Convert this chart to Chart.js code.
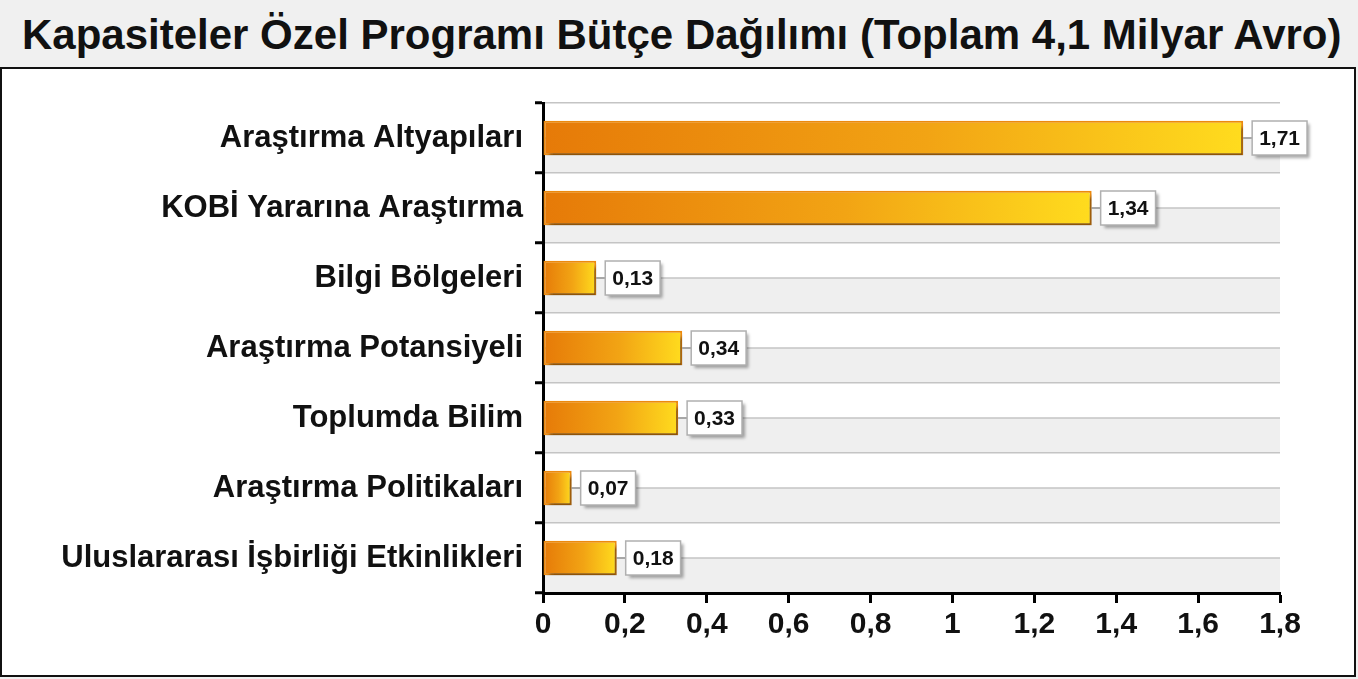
<!DOCTYPE html>
<html lang="tr">
<head>
<meta charset="utf-8">
<title>Kapasiteler Özel Programı Bütçe Dağılımı</title>
<script src="https://cdn.jsdelivr.net/npm/chart.js@4"></script>
<style>
    html, body { margin: 0; padding: 0; background: #f0f0f0; }
    body { width: 1358px; height: 679px; position: relative; overflow: hidden; font-family: 'Liberation Sans', Arial, sans-serif; }
    #title { position: absolute; left: 22px; top: 2px; height: 66px; line-height: 66px; font-size: 42px; font-weight: bold; color: #111; white-space: nowrap; }
    #box { position: absolute; left: 0; top: 67px; width: 1352px; height: 606px; border: 2px solid #111; background: #fff; }
    canvas { display: block; }
</style>
</head>
<body>
<div id="title">Kapasiteler Özel Programı Bütçe Dağılımı (Toplam 4,1 Milyar Avro)</div>
<div id="box"><canvas id="budgetChart" width="1352" height="606"></canvas></div>
<script>
'use strict';
// bütçe dağılımı (milyar avro)
const CATEGORIES = [
    'Araştırma Altyapıları',
    'KOBİ Yararına Araştırma',
    'Bilgi Bölgeleri',
    'Araştırma Potansiyeli',
    'Toplumda Bilim',
    'Araştırma Politikaları',
    'Uluslararası İşbirliği Etkinlikleri',
];
const VALUES = [1.71, 1.34, 0.13, 0.34, 0.33, 0.07, 0.18];
const X_TICK_LABELS = ['0', '0,2', '0,4', '0,6', '0,8', '1', '1,2', '1,4', '1,6', '1,8'];

const FONT = "'Liberation Sans', Arial, sans-serif";

// satır zemini: her bandın alt yarısı gri, ortasından ince çizgi
const bandPlugin = {
    id: 'bands',
    beforeDraw(chart) {
        const { ctx, chartArea: a, scales: { y } } = chart;
        const half = (y.getPixelForValue(1) - y.getPixelForValue(0)) / 2;
        ctx.save();
        CATEGORIES.forEach((_, i) => {
            const yc = y.getPixelForValue(i);
            ctx.fillStyle = '#efefef';
            ctx.fillRect(a.left, yc, a.right - a.left, half);
            ctx.strokeStyle = '#c4c4c4';
            ctx.lineWidth = 1.5;
            ctx.beginPath();
            ctx.moveTo(a.left, yc);
            ctx.lineTo(a.right, yc);
            ctx.stroke();
        });
        ctx.restore();
    },
};

const shadowPlugin = {
    id: 'barShadow',
    beforeDatasetsDraw(chart) {
        const ctx = chart.ctx;
        ctx.save();
        ctx.shadowColor = 'rgba(0,0,0,0.4)';
        ctx.shadowOffsetX = 3;
        ctx.shadowOffsetY = 4;
        ctx.shadowBlur = 3;
    },
    afterDatasetsDraw(chart) {
        chart.ctx.restore();
    },
};

// değer kutuları
const valueBoxPlugin = {
    id: 'valueBoxes',
    afterDatasetsDraw(chart) {
        const ctx = chart.ctx;
        const meta = chart.getDatasetMeta(0);
        ctx.save();
        ctx.font = 'bold 21px ' + FONT;
        meta.data.forEach((bar, i) => {
            const text = String(VALUES[i]).replace('.', ',');
            const w = ctx.measureText(text).width + 14;
            const h = 34;
            const x0 = bar.x + 9;
            const y0 = bar.y - h / 2;
            ctx.strokeStyle = '#9a9a9a';
            ctx.lineWidth = 1.5;
            ctx.beginPath();
            ctx.moveTo(bar.x, bar.y);
            ctx.lineTo(x0, bar.y);
            ctx.stroke();
            ctx.save();
            ctx.shadowColor = 'rgba(0,0,0,0.35)';
            ctx.shadowOffsetX = 3;
            ctx.shadowOffsetY = 3;
            ctx.shadowBlur = 3;
            ctx.fillStyle = '#fff';
            ctx.fillRect(x0, y0, w, h);
            ctx.restore();
            ctx.strokeStyle = '#b0b0b0';
            ctx.strokeRect(x0, y0, w, h);
            ctx.fillStyle = '#111';
            ctx.textAlign = 'center';
            ctx.textBaseline = 'middle';
            ctx.fillText(text, x0 + w / 2, bar.y + 1);
        });
        ctx.restore();
    },
};

function barGradient(context) {
    const chart = context.chart;
    if (!chart.chartArea) return '#f0a010';
    const x = chart.scales.x;
    const v = context.raw || 0;
    const x0 = x.getPixelForValue(0);
    const x1 = x.getPixelForValue(v);
    const g = chart.ctx.createLinearGradient(x0, 0, Math.max(x1, x0 + 1), 0);
    g.addColorStop(0, '#e67a08');
    g.addColorStop(0.55, '#f2a414');
    g.addColorStop(1, '#ffdc1e');
    return g;
}

new Chart(document.getElementById('budgetChart'), {
    type: 'bar',
    data: {
        labels: CATEGORIES,
        datasets: [{
            data: VALUES,
            backgroundColor: barGradient,
            borderColor: '#ec8a0e',
            borderWidth: 2,
            borderSkipped: false,
            barPercentage: 0.49,
            categoryPercentage: 1,
        }],
    },
    options: {
        indexAxis: 'y',
        responsive: false,
        animation: false,
        layout: { padding: { left: 0, right: 74, top: 34, bottom: 0 } },
        plugins: {
            legend: { display: false },
            tooltip: { enabled: false },
        },
        scales: {
            x: {
                min: 0,
                max: 1.8,
                afterFit(scale) { scale.height = 82; },
                afterBuildTicks(scale) {
                    scale.ticks = X_TICK_LABELS.map((_, i) => ({ value: i * 0.2 }));
                },
                ticks: {
                    color: '#111',
                    font: { family: FONT, size: 30, weight: 'bold' },
                    padding: 4,
                    maxRotation: 0,
                    autoSkip: false,
                    callback: (v, i) => X_TICK_LABELS[i],
                },
                grid: { drawOnChartArea: false, drawTicks: true, tickLength: 10, tickColor: '#000', tickWidth: 3 },
                border: { color: '#000', width: 3 },
            },
            y: {
                afterFit(scale) { scale.width = 541; },
                ticks: {
                    color: '#111',
                    font: { family: FONT, size: 31, weight: 'bold' },
                    padding: 12,
                },
                grid: { offset: true, color: '#c4c4c4', lineWidth: 1.5, tickLength: 8, tickColor: '#000', tickWidth: 3 },
                border: { color: '#000', width: 3 },
            },
        },
    },
    plugins: [bandPlugin, shadowPlugin, valueBoxPlugin],
});
</script>
</body>
</html>
